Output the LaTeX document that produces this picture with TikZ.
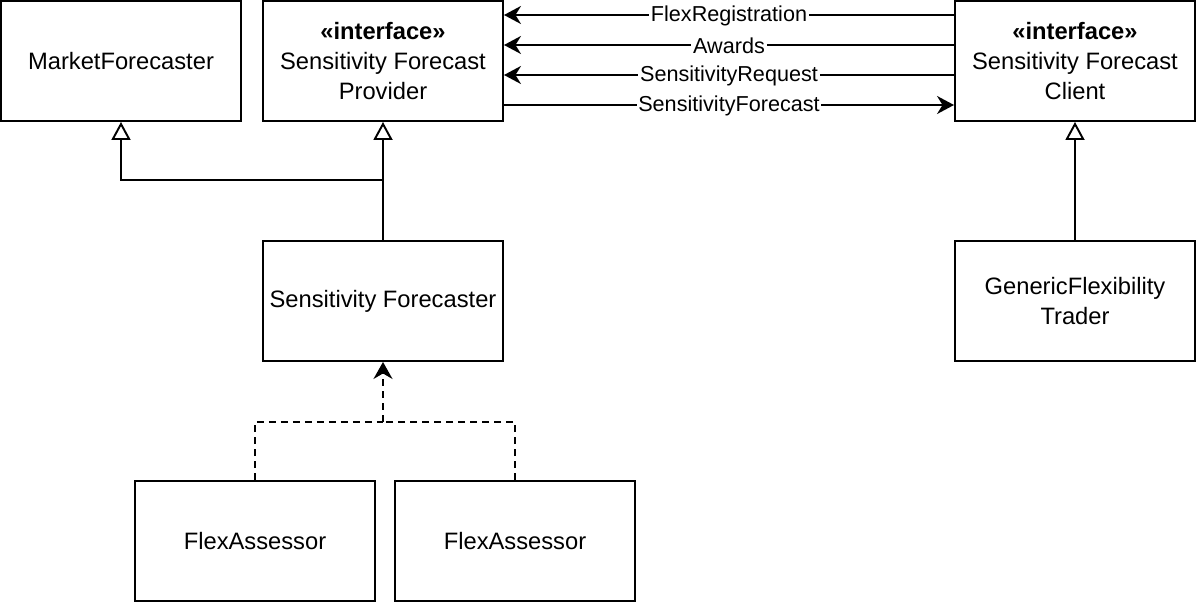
\documentclass[tikz,border=0pt]{standalone}
\usepackage{fontspec}
\setmainfont{Liberation Sans}
\usetikzlibrary{arrows.meta}

\begin{document}
\begin{tikzpicture}[
  font=\fontsize{13.5}{16.8}\selectfont,
  classbox/.style={
    draw=black,
    line width=1.1pt,
    fill=white,
    minimum width=4.8cm,
    minimum height=2.4cm,
    align=center,
    inner sep=2pt
  },
  msglabel/.style={
    font=\fontsize{12.3}{14}\selectfont,
    fill=white,
    inner sep=1pt,
    yshift=-0.6pt
  },
  msg/.style={-{Stealth[length=3.4mm,width=3.6mm,inset=1.1mm]}, line width=1.1pt},
  inherit/.style={-{Triangle[open,length=3.6mm,width=3.8mm]}, line width=1.1pt},
  realize/.style={line width=1.1pt, dash pattern=on 1.4mm off 1mm}
]

\useasboundingbox (0,0) rectangle (23.92,-12.04);

\node[classbox] (market) at (2.42,-1.22) {MarketForecaster};
\node[classbox] (provider) at (7.66,-1.22)
  {\textbf{«interface»}\\Sensitivity Forecast\\Provider};
\node[classbox] (client) at (21.5,-1.22)
  {\textbf{«interface»}\\Sensitivity Forecast\\Client};
\node[classbox] (forecaster) at (7.66,-6.02) {Sensitivity Forecaster};
\node[classbox] (trader) at (21.5,-6.02) {GenericFlexibility\\Trader};
\node[classbox] (assessorA) at (5.1,-10.82) {FlexAssessor};
\node[classbox] (assessorB) at (10.3,-10.82) {FlexAssessor};

% messages between provider and client
\draw[msg] ([yshift=0.92cm]client.west) -- node[msglabel] {FlexRegistration} ([yshift=0.92cm]provider.east);
\draw[msg] ([yshift=0.32cm]client.west) -- node[msglabel] {Awards} ([yshift=0.32cm]provider.east);
\draw[msg] ([yshift=-0.28cm]client.west) -- node[msglabel] {SensitivityRequest} ([yshift=-0.28cm]provider.east);
\draw[msg] ([yshift=-0.88cm]provider.east) -- node[msglabel] {SensitivityForecast} ([yshift=-0.88cm]client.west);

% generalisation
\coordinate (branch) at ([yshift=1.2cm]forecaster.north);
\draw[inherit] (forecaster.north) -- (provider.south);
\draw[inherit] (branch) -| (market.south);
\draw[inherit] (trader.north) -- (client.south);

% assessors
\coordinate (merge) at ([yshift=-1.2cm]forecaster.south);
\draw[realize] (assessorA.north) |- (merge);
\draw[realize] (assessorB.north) |- (merge);
\draw[realize, -{Stealth[length=3.4mm,width=3.8mm,inset=1.1mm]}] (merge) -- (forecaster.south);

\end{tikzpicture}
\end{document}
